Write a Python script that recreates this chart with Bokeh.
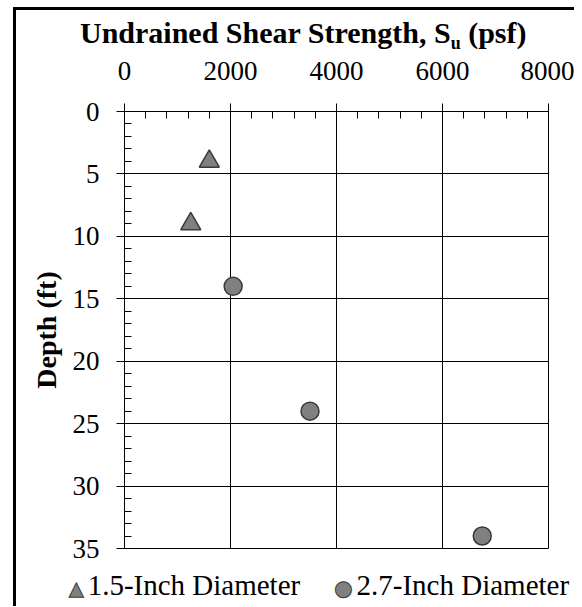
from bokeh.plotting import figure
from bokeh.models import Range1d, FixedTicker, Div
from bokeh.layouts import column
from bokeh.embed import file_html
from bokeh.resources import INLINE

# ---- data ----
small_su = [1600, 1250]          # 1.5-inch diameter
small_depth = [4, 9]
large_su = [2050, 3500, 6750]    # 2.7-inch diameter
large_depth = [14, 24, 34]

x_ticks = [0, 2000, 4000, 6000, 8000]
x_minor = list(range(0, 8001, 400))
y_ticks = [0, 5, 10, 15, 20, 25, 30, 35]
y_minor = list(range(0, 36))

series_labels = ["1.5-Inch Diameter", "2.7-Inch Diameter"]
title_main = "Undrained Shear Strength, S"
title_sub = "u"
title_tail = "(psf)"
y_label = "Depth (ft)"

FONT = "Liberation Serif"
MARK_FILL = "#808080"
MARK_LINE = "#3a3a3a"

W = 558

title_div = Div(
    text=(f'<div style="font-family:\'{FONT}\',serif;font-weight:bold;font-size:30px;'
          f'color:black;padding-left:64px;padding-top:6px;line-height:1.15;white-space:nowrap">'
          f'{title_main}<span style="font-size:18px;position:relative;top:6px">{title_sub}</span>'
          f' {title_tail}</div>'),
    width=W, height=45, margin=0)

p = figure(width=W, height=509,
           x_range=Range1d(0, 8000), y_range=Range1d(35, 0),
           x_axis_location="above",
           output_backend="svg", toolbar_location=None,
           min_border_left=108, min_border_top=56,
           min_border_right=26, min_border_bottom=16, margin=0)

p.background_fill_color = "white"
p.border_fill_color = "white"
p.outline_line_color = "black"
p.outline_line_width = 1

xa = p.xaxis[0]
xa.ticker = FixedTicker(ticks=x_ticks, minor_ticks=x_minor)
xa.major_tick_out = 8
xa.major_tick_in = 0
xa.minor_tick_in = 7
xa.minor_tick_out = 0
xa.major_tick_line_color = "black"
xa.minor_tick_line_color = "black"
xa.axis_line_color = "black"
xa.major_label_text_font = FONT
xa.major_label_text_font_size = "27px"
xa.major_label_text_color = "black"
xa.major_label_standoff = 24

ya = p.yaxis[0]
ya.ticker = FixedTicker(ticks=y_ticks, minor_ticks=y_minor)
ya.major_tick_out = 8
ya.major_tick_in = 0
ya.minor_tick_in = 7
ya.minor_tick_out = 0
ya.major_tick_line_color = "black"
ya.minor_tick_line_color = "black"
ya.axis_line_color = "black"
ya.major_label_text_font = FONT
ya.major_label_text_font_size = "27px"
ya.major_label_text_color = "black"
ya.major_label_standoff = 17
ya.axis_label = y_label
ya.axis_label_text_font = FONT
ya.axis_label_text_font_style = "bold"
ya.axis_label_text_font_size = "28px"
ya.axis_label_text_color = "black"
ya.axis_label_standoff = 8

p.xgrid.ticker = FixedTicker(ticks=x_ticks)
p.ygrid.ticker = FixedTicker(ticks=y_ticks)
for g in (p.xgrid[0], p.ygrid[0]):
    g.grid_line_color = "black"
    g.grid_line_width = 1

p.scatter(small_su, small_depth, marker="triangle", size=20,
          fill_color=MARK_FILL, line_color=MARK_LINE, line_width=1.5)
p.scatter(large_su, large_depth, marker="circle", size=18,
          fill_color=MARK_FILL, line_color=MARK_LINE, line_width=1.5)

marker_style = (f"font-family:'DejaVu Sans';color:{MARK_FILL};"
                f"-webkit-text-stroke:1px {MARK_LINE};")
legend_div = Div(
    text=(f'<div style="font-family:\'{FONT}\',serif;font-size:29px;color:black;'
          f'padding-left:53px;padding-top:7px;line-height:28px;white-space:nowrap">'
          f'<span style="{marker_style}font-size:19px;margin-right:4px">&#9650;</span>{series_labels[0]}'
          f'<span style="display:inline-block;width:34px"></span>'
          f'<span style="{marker_style}font-size:21px;margin-right:4px">&#9679;</span>{series_labels[1]}</div>'),
    width=W, height=42, margin=0)

layout = column(title_div, p, legend_div, spacing=0,
                styles={"margin-left": "13px", "margin-top": "7px",
                        "border-left": "3px solid black",
                        "border-top": "3px solid black"})

open("out.html", "w").write(file_html(layout, INLINE))
